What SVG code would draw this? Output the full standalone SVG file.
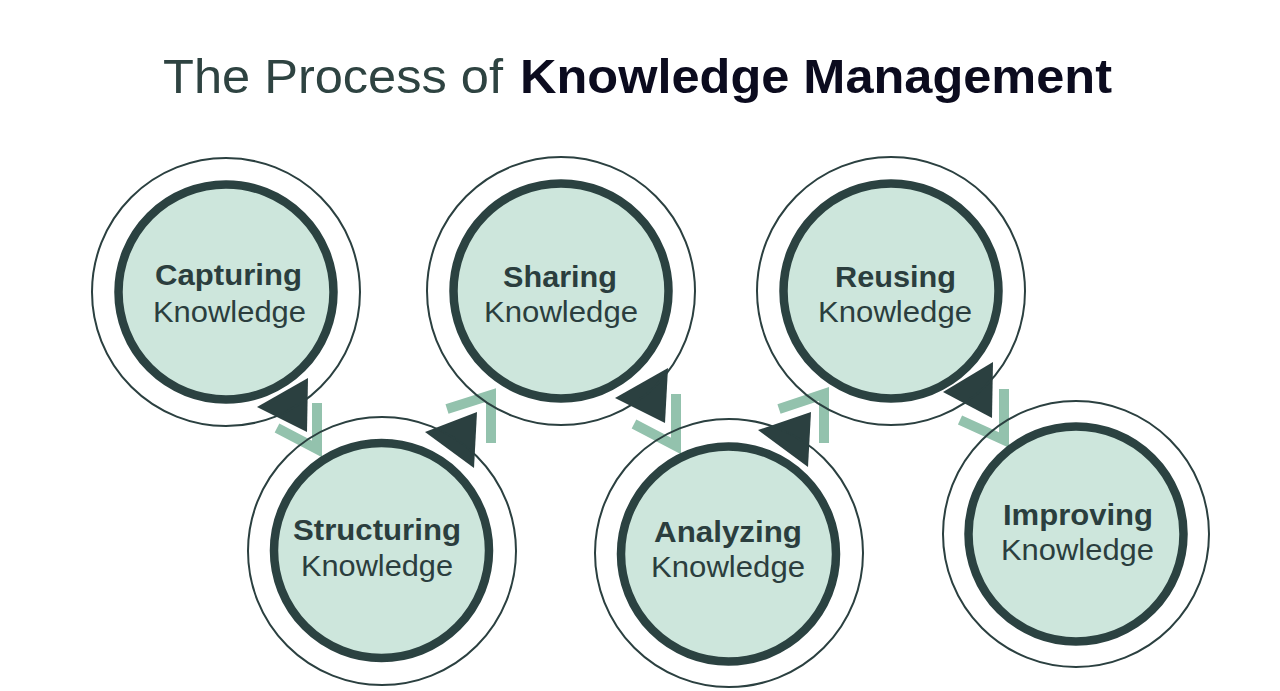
<svg xmlns="http://www.w3.org/2000/svg" width="1280" height="691" viewBox="0 0 1280 691">
  <style>
    .ring { fill: none; stroke: #2b4040; stroke-width: 2; }
    .core { fill: #cde6dc; stroke: #2b4241; stroke-width: 8.5; }
    .t1 { font-family: "Liberation Sans", Arial, sans-serif; font-weight: bold; font-size: 29px; fill: #2b3e3e; text-anchor: middle; }
    .t2 { font-family: "Liberation Sans", Arial, sans-serif; font-size: 29px; fill: #2b3e3e; text-anchor: middle; }
    .chev { fill: none; stroke: #93c2ad; stroke-width: 10; stroke-linejoin: miter; stroke-linecap: butt; }
    .tri { fill: #2b4040; }
  </style>
  <rect width="1280" height="691" fill="#ffffff"/>
  <g id="title">
    <text x="163" y="93" font-family="Liberation Sans, Arial, sans-serif" font-size="48" fill="#2e4341" textLength="340" lengthAdjust="spacingAndGlyphs">The Process of</text>
    <text x="520" y="93" font-family="Liberation Sans, Arial, sans-serif" font-size="48" font-weight="bold" fill="#0b0b1e" textLength="592" lengthAdjust="spacingAndGlyphs">Knowledge Management</text>
  </g>
  <g id="connectors">
    <polyline class="chev" points="277,428 317,449 317,403"/>
    <polyline class="chev" points="447,409 491,395 491,443"/>
    <polyline class="chev" points="634,424 676,446 676,394"/>
    <polyline class="chev" points="779,409 824,394 824,443"/>
    <polyline class="chev" points="960,420 1004,440 1004,389"/>
    <polygon class="tri" points="257,407 308,378 307,432"/>
    <polygon class="tri" points="425,432 477,412 474,468"/>
    <polygon class="tri" points="615,398 668,368 665,423"/>
    <polygon class="tri" points="758,430 811,412 808,467"/>
    <polygon class="tri" points="943,392 993,362 992,418"/>
  </g>
  <g id="node-capturing">
    <circle class="ring" cx="226" cy="292" r="134"/>
    <circle class="core" cx="226" cy="292" r="107.5"/>
    <text class="t1" x="228.5" y="285" textLength="147" lengthAdjust="spacingAndGlyphs">Capturing</text>
    <text class="t2" x="229.5" y="322" textLength="153" lengthAdjust="spacingAndGlyphs">Knowledge</text>
  </g>
  <g id="node-structuring">
    <circle class="ring" cx="382" cy="551" r="134"/>
    <circle class="core" cx="381.5" cy="550.5" r="107.5"/>
    <text class="t1" x="377" y="540" textLength="168" lengthAdjust="spacingAndGlyphs">Structuring</text>
    <text class="t2" x="377" y="576" textLength="152" lengthAdjust="spacingAndGlyphs">Knowledge</text>
  </g>
  <g id="node-sharing">
    <circle class="ring" cx="561" cy="291" r="134"/>
    <circle class="core" cx="561" cy="291" r="107.5"/>
    <text class="t1" x="560" y="287" textLength="114" lengthAdjust="spacingAndGlyphs">Sharing</text>
    <text class="t2" x="561" y="322" textLength="154" lengthAdjust="spacingAndGlyphs">Knowledge</text>
  </g>
  <g id="node-analyzing">
    <circle class="ring" cx="729" cy="553" r="134"/>
    <circle class="core" cx="728.5" cy="554" r="107.5"/>
    <text class="t1" x="728" y="542" textLength="148" lengthAdjust="spacingAndGlyphs">Analyzing</text>
    <text class="t2" x="728" y="577" textLength="154" lengthAdjust="spacingAndGlyphs">Knowledge</text>
  </g>
  <g id="node-reusing">
    <circle class="ring" cx="891" cy="291" r="134"/>
    <circle class="core" cx="891" cy="291" r="107.5"/>
    <text class="t1" x="895.5" y="287" textLength="121" lengthAdjust="spacingAndGlyphs">Reusing</text>
    <text class="t2" x="895" y="322" textLength="154" lengthAdjust="spacingAndGlyphs">Knowledge</text>
  </g>
  <g id="node-improving">
    <circle class="ring" cx="1076" cy="534" r="133"/>
    <circle class="core" cx="1076" cy="534" r="107.5"/>
    <text class="t1" x="1078" y="525" textLength="150" lengthAdjust="spacingAndGlyphs">Improving</text>
    <text class="t2" x="1077.5" y="560" textLength="153" lengthAdjust="spacingAndGlyphs">Knowledge</text>
  </g>
</svg>
